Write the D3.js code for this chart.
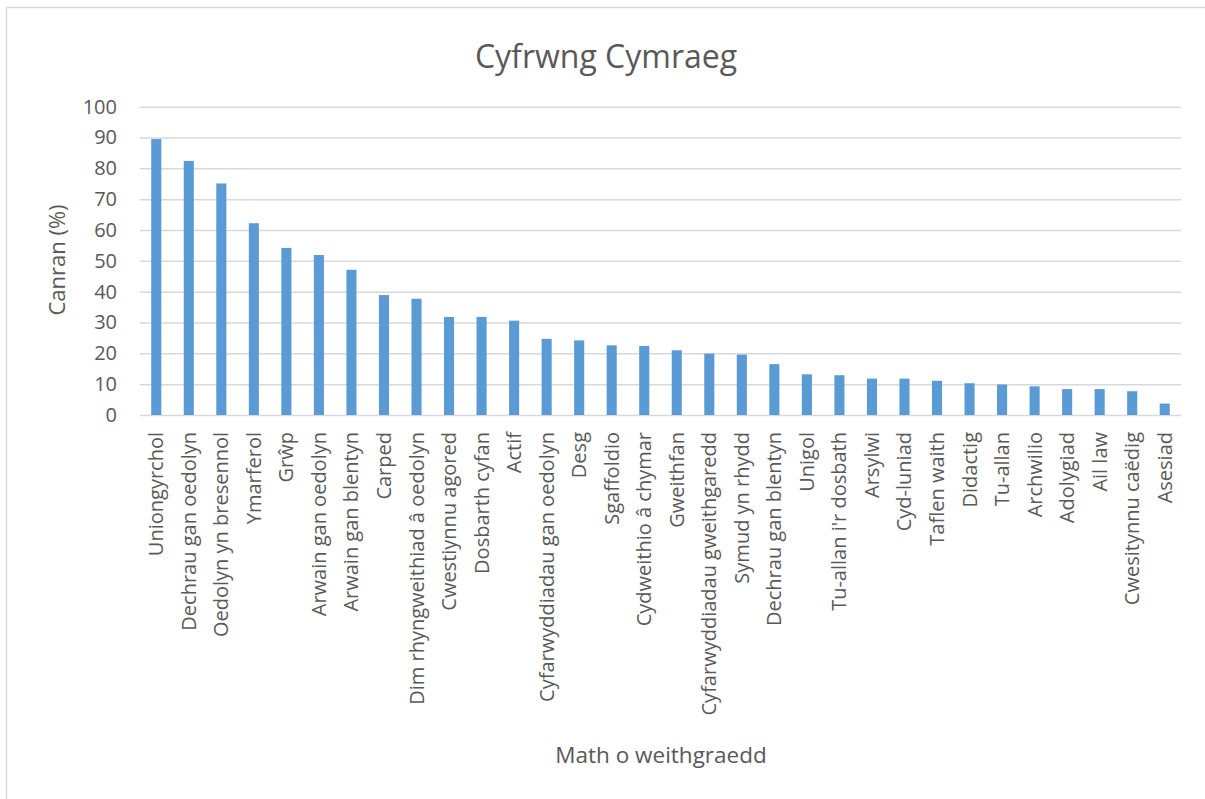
<!DOCTYPE html>
<html>
<head>
<meta charset="utf-8">
<script src="https://cdn.jsdelivr.net/npm/d3@7"></script>
<style>
  body { margin: 0; background: #fff; }
  text { font-family: "Open Sans", sans-serif; fill: #595959; }
</style>
</head>
<body>
<svg id="chart" width="1205" height="799"></svg>
<script>
// categories along the x axis
var categories = ["Uniongyrchol", "Dechrau gan oedolyn", "Oedolyn yn bresennol", "Ymarferol", "Grŵp",
  "Arwain gan oedolyn", "Arwain gan blentyn", "Carped", "Dim rhyngweithiad â oedolyn", "Cwestiynnu agored",
  "Dosbarth cyfan", "Actif", "Cyfarwyddiadau gan oedolyn", "Desg", "Sgaffoldio", "Cydweithio â chymar",
  "Gweithfan", "Cyfarwyddiadau gweithgaredd", "Symud yn rhydd", "Dechrau gan blentyn", "Unigol",
  "Tu-allan i'r dosbath", "Arsylwi", "Cyd-luniad", "Taflen waith", "Didactig", "Tu-allan", "Archwilio",
  "Adolygiad", "Ail law", "Cwesitynnu caëdig", "Asesiad"];

// percentage values
var values = [89.5, 82.4, 75.1, 62.2, 54.2, 51.9, 47.1, 38.9, 37.7, 31.8,
  31.8, 30.6, 24.7, 24.2, 22.6, 22.4, 21.0, 19.9, 19.6, 16.5, 13.2,
  12.9, 11.8, 11.8, 11.1, 10.3, 9.9, 9.3, 8.4, 8.4, 7.7, 3.7];

var yTicks = [0, 10, 20, 30, 40, 50, 60, 70, 80, 90, 100];

var titleText = "Cyfrwng Cymraeg";
var yTitle = "Canran (%)";
var xTitle = "Math o weithgraedd";

var svg = d3.select("#chart");

// chart area border
svg.append("rect")
  .attr("x", 6.5).attr("y", 7.5)
  .attr("width", 1400).attr("height", 1000)
  .attr("fill", "none")
  .attr("stroke", "#d9d9d9")
  .attr("stroke-width", 1.5);

// plot area edges ("top" is taken by window.top)
var plotLeft = 140, plotRight = 1181, plotTop = 106.7, plotBottom = 415;

var x = d3.scaleBand()
  .domain(categories)
  .range([plotLeft, plotRight])
  .paddingInner(0.69)
  .paddingOuter(0.345);

var y = d3.scaleLinear()
  .domain([0, 100])
  .range([plotBottom, plotTop]);

// y axis with gridlines
var yAxis = svg.append("g")
  .attr("transform", "translate(" + plotLeft + ",0)")
  .call(d3.axisLeft(y).tickValues(yTicks).tickSize(-(plotRight - plotLeft)).tickPadding(23));

yAxis.select(".domain").remove();
yAxis.selectAll(".tick line")
  .attr("stroke", "#d9d9d9")
  .attr("stroke-width", 1.5);
yAxis.selectAll(".tick text")
  .style("font-size", "20px")
  .attr("fill", "#595959");

// bars
svg.selectAll(".bar")
  .data(values)
  .enter().append("rect")
  .attr("class", "bar")
  .attr("x", (d, i) => x(categories[i]))
  .attr("y", d => y(d))
  .attr("width", x.bandwidth())
  .attr("height", d => y(0) - y(d))
  .attr("fill", "#5b9bd5");

// x axis labels
var xAxis = svg.append("g")
  .attr("transform", "translate(0," + plotBottom + ")")
  .call(d3.axisBottom(x).tickSize(0));

xAxis.select(".domain").remove();
xAxis.selectAll(".tick text")
  .attr("transform", "rotate(-90)")
  .attr("x", -17)
  .attr("y", 0)
  .attr("dy", "0.35em")
  .style("text-anchor", "end")
  .style("font-size", "20px")
  .attr("fill", "#595959");

// titles
svg.append("text")
  .attr("x", 606)
  .attr("y", 68)
  .attr("text-anchor", "middle")
  .style("font-size", "32px")
  .text(titleText);

svg.append("text")
  .attr("transform", "translate(65,260) rotate(-90)")
  .attr("text-anchor", "middle")
  .style("font-size", "22px")
  .text(yTitle);

svg.append("text")
  .attr("x", 661)
  .attr("y", 763)
  .attr("text-anchor", "middle")
  .style("font-size", "22.5px")
  .text(xTitle);
</script>
</body>
</html>
